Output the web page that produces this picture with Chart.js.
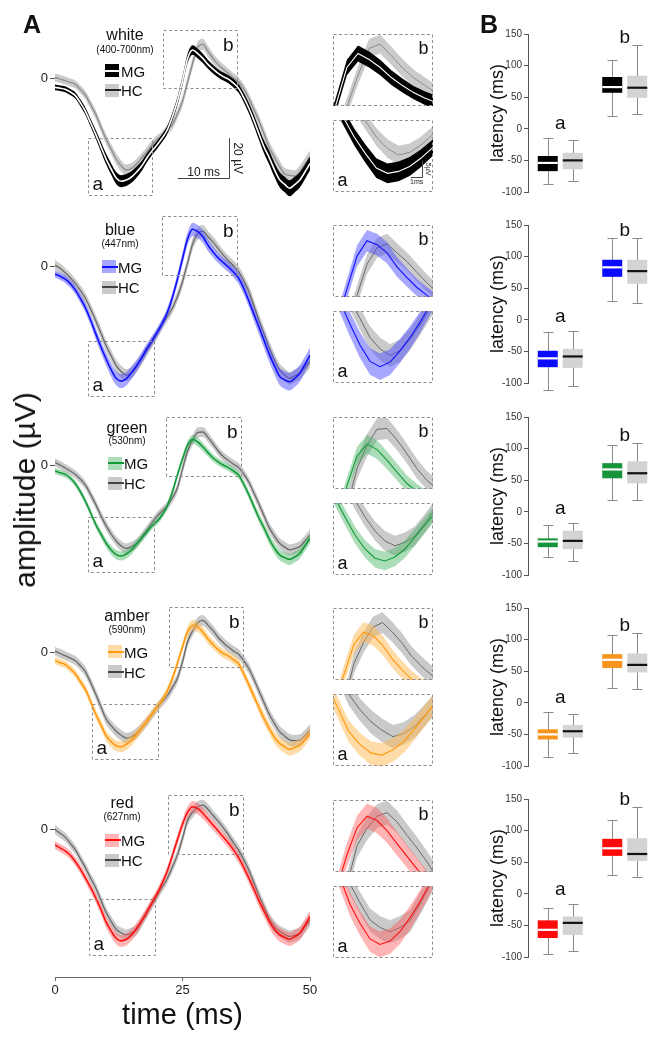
<!DOCTYPE html>
<html>
<head>
<meta charset="utf-8">
<script src="https://cdn.jsdelivr.net/npm/chart.js@4.4.1/dist/chart.umd.min.js"></script>
<style>
  body { margin: 0; width: 657px; height: 1040px; position: relative; background: #fff; overflow: hidden;
         font-family: "Liberation Sans", Arial, Helvetica, sans-serif; }
  canvas { position: absolute; }
  .txt { position: absolute; white-space: nowrap; color: #111; line-height: 1; }
  .sw { position: absolute; }
</style>
</head>
<body>
<script>
// time base of the averaged responses (ms)
const timeMs = [0,1,2,3,4,5,6,7,8,9,10,11,12,13,14,15,16,17,18,19,20,21,22,23,24,25,
  26,27,28,29,30,31,32,33,34,35,36,37,38,39,40,41,42,43,44,45,46,47,48,49,50];

// mean amplitude (uV), MG = patients, HC = controls
const whiteMG = [-4.7,-5.1,-5.6,-7,-8.8,-12.5,-16.8,-22.5,-28.2,-34.3,
  -40.4,-45.5,-50,-51.6,-51,-49.5,-47,-44,-40,-36.5,
  -33.5,-30,-26,-19.5,-11.6,-1.5,9.8,14,12.2,9.8,
  6.8,4.4,2.3,0.7,-0.6,-2.6,-5.2,-9.7,-15,-21.2,
  -28,-34.5,-39.8,-45.7,-50.7,-53.1,-55.1,-53.3,-51,-47,-42.7];
const whiteHC = [0.3,-0.5,-1.3,-2.2,-3.2,-5.8,-8.7,-13.4,-18.3,-24.5,
  -30.5,-35.5,-40.5,-44,-46,-45.2,-43,-40,-37,-33.5,
  -30.8,-28.9,-26,-23.3,-18,-11.5,-2,7.5,15.5,16.8,
  13.3,9.7,6.7,4.5,2.2,0,-2,-5.4,-10.1,-15.7,
  -21.5,-28,-34.7,-39.6,-44.1,-47.9,-48.7,-49.1,-46.8,-43,-39.3];
const blueMG = [-3.7,-4.8,-6.2,-8.5,-11.7,-16,-20.7,-26.8,-33.6,-40,
  -46,-51.5,-55.8,-57.2,-56,-53,-49.5,-45.5,-41,-37,
  -33,-28.5,-23,-15.5,-6.3,4,14,18.7,17.5,15,
  10.7,7.4,4.4,2,-0.2,-2.8,-5.8,-10.8,-17,-23.7,
  -30.3,-37,-43.7,-49.5,-54.7,-56.6,-57.5,-55.9,-53.3,-49,-44.2];
const blueHC = [0.8,-0.8,-3,-5.5,-8.5,-12,-16,-21.3,-27,-33.2,
  -39.4,-44.5,-49.5,-52.5,-54.2,-53,-50,-46.2,-42,-38,
  -33.5,-29,-25,-20.8,-15,-7.5,2,11.5,16.5,17.8,
  15,12.3,9,5.8,3,0.5,-2.5,-7,-12.3,-19.5,
  -26.8,-33.5,-40.3,-46.5,-51.5,-54,-55.8,-54.6,-53.3,-50.5,-47.5];
const greenMG = [-3,-3.9,-4.7,-6.5,-9.4,-13.5,-18.3,-24,-29.8,-34.5,
  -39,-42.5,-44.8,-45.5,-44.5,-42.5,-39.5,-36.5,-33.5,-30.5,
  -28.2,-25,-20.5,-13.5,-5,3,10,12.8,11.5,9,
  6.2,3.5,1.6,0,-1.3,-3,-5,-9.5,-14.8,-20.7,
  -26.5,-31.5,-37,-41.5,-44.8,-46.3,-47.2,-46,-44.2,-40.5,-36.7];
const greenHC = [1.2,0,-1.5,-3,-4.7,-7.2,-10.2,-14.8,-19.8,-25.3,
  -30.3,-34.5,-38,-40.5,-41.7,-40.8,-39.2,-36,-32.5,-29,
  -25.6,-23,-20.5,-16.5,-11.5,-2,7,12.5,16.3,16.5,
  13.8,10.5,7,4.2,2.3,0.4,-1.2,-4.5,-8.5,-14,
  -19.6,-25.5,-31.3,-35.5,-39,-41,-42.4,-41.8,-40.8,-38,-35];
const amberMG = [-4,-5,-5.9,-8,-10.6,-14.5,-18.6,-24.5,-30.8,-36,
  -41.5,-44.5,-46.5,-47,-45.8,-43.8,-40.8,-37.6,-34.3,-30.7,
  -27.3,-23.7,-19.2,-13,-5.3,3,10.5,13.7,12.8,10.3,
  6.8,4,1.5,-0.4,-1.6,-3.5,-5.5,-10.5,-16,-21.7,
  -27.5,-33,-37.8,-42.3,-45.2,-47,-48.3,-47.4,-46.2,-43.5,-40.3];
const amberHC = [0.8,-0.4,-1.5,-2.7,-4,-6.5,-9.7,-15,-20.8,-27,
  -33,-36.5,-39.3,-41.3,-42.8,-42,-40.3,-37.5,-34.5,-31,
  -27.5,-24.5,-21.6,-17.5,-12.8,-4.5,5.5,11,15,16.2,
  13.8,11,7.6,5,2.8,0.8,-0.8,-4,-7.9,-13.3,
  -19.2,-25,-30.8,-35.3,-39.3,-41.6,-43.6,-44,-43.7,-41.5,-38.7];
const redMG = [-7.8,-9.3,-10.8,-13,-16.2,-20,-24.5,-29.2,-34.3,-40,
  -46.3,-50.8,-54.5,-55.8,-55,-52.8,-49.5,-45.7,-41.3,-36.8,
  -32.3,-27,-21,-13.3,-5.2,2.5,8.6,11.3,10.3,8,
  5,2.1,-0.8,-3.8,-6.9,-10.3,-14.2,-19,-24.3,-30,
  -35.8,-41,-46,-50,-52.6,-54,-55,-53.7,-52,-48,-43.7];
const redHC = [0,-2,-3.9,-7,-10.3,-14.8,-19.4,-24.5,-29.3,-35.5,
  -41.5,-46,-50,-51.8,-52.8,-51.8,-50.3,-46.2,-42,-37.5,
  -33.3,-29,-24.7,-19,-12.8,-4.5,4.5,8.5,11.3,12.1,
  10,6.9,4,0.8,-2.8,-6.7,-10.4,-15.1,-20.3,-26.7,
  -33.1,-38.9,-44.7,-48.5,-51,-52.5,-53.6,-53,-52,-48.8,-45.3];

// SEM of each trace (uV)
const whiteMGSem = [1.4,1.4,1.5,1.5,1.6,1.7,1.8,2,2.2,2.4, 2.6,2.8,3,3,3,2.9,2.7,2.5,2.3,2.1,
  2,2,2,2,2.1,2.2,2.3,2.4,2.4,2.3, 2.2,2.1,2,2,2,2.1,2.2,2.4,2.6,2.8, 3,3.2,3.4,3.6,3.8,3.9,4,3.9,3.8,3.6, 3.4];
const whiteHCSem = [2,2,2,2,2,2,2.1,2.2,2.3,2.4, 2.5,2.6,2.7,2.8,2.8,2.7,2.6,2.5,2.4,2.3,
  2.2,2.2,2.2,2.3,2.4,2.5,2.6,2.7,2.8,2.8, 2.7,2.6,2.5,2.4,2.4,2.4,2.4,2.4,2.5,2.6, 2.7,2.8,2.9,3,3,3,3,3,3,3, 3];
const blueMGSem = [1.8,1.8,1.9,2,2.1,2.2,2.4,2.6,2.8,3, 3.2,3.4,3.5,3.5,3.4,3.2,3,2.8,2.6,2.4,
  2.3,2.3,2.4,2.6,2.8,3,3.2,3.3,3.3,3.2, 3,2.8,2.6,2.5,2.5,2.6,2.8,3,3.2,3.4, 3.6,3.8,4,4.2,4.3,4.4,4.4,4.3,4.2,4, 3.8];
const blueHCSem = [2.4,2.4,2.4,2.5,2.5,2.6,2.6,2.7,2.7,2.8, 2.8,2.9,3,3,3,2.9,2.8,2.7,2.6,2.5,
  2.5,2.5,2.5,2.6,2.7,2.8,2.9,3,3,3, 2.9,2.8,2.7,2.6,2.6,2.6,2.7,2.8,2.9,3, 3,3.1,3.1,3.2,3.2,3.2,3.2,3.2,3.2,3.2, 3.2];
const greenMGSem = [1.5,1.5,1.5,1.5,1.6,1.6,1.7,1.8,1.9,2, 2.1,2.2,2.3,2.3,2.3,2.2,2.1,2,1.9,1.8,
  1.7,1.7,1.7,1.8,1.9,2,2.1,2.2,2.2,2.1, 2,1.9,1.8,1.8,1.8,1.8,1.9,2,2.1,2.2, 2.3,2.4,2.5,2.6,2.7,2.8,2.8,2.8,2.7,2.6, 2.5];
const greenHCSem = [2,2,2,2,2,2.1,2.1,2.2,2.2,2.3, 2.3,2.4,2.4,2.5,2.5,2.4,2.4,2.3,2.2,2.2,
  2.1,2.1,2.1,2.2,2.3,2.4,2.5,2.6,2.6,2.5, 2.4,2.3,2.3,2.2,2.2,2.2,2.2,2.3,2.3,2.4, 2.4,2.5,2.5,2.6,2.6,2.7,2.7,2.7,2.7,2.7, 2.7];
const amberMGSem = [1.8,1.8,1.8,1.9,1.9,2,2.1,2.2,2.3,2.4, 2.5,2.6,2.7,2.7,2.7,2.6,2.5,2.4,2.3,2.2,
  2.1,2.1,2.1,2.2,2.3,2.4,2.5,2.6,2.6,2.5, 2.4,2.3,2.2,2.2,2.2,2.2,2.3,2.4,2.5,2.6, 2.7,2.8,2.9,3,3.1,3.2,3.2,3.2,3.1,3, 2.9];
const amberHCSem = [2.2,2.2,2.2,2.2,2.3,2.3,2.4,2.4,2.5,2.5, 2.6,2.6,2.7,2.7,2.7,2.6,2.6,2.5,2.5,2.4,
  2.4,2.4,2.4,2.5,2.5,2.6,2.6,2.7,2.7,2.7, 2.6,2.6,2.5,2.5,2.5,2.5,2.5,2.5,2.6,2.6, 2.7,2.7,2.8,2.8,2.9,2.9,2.9,2.9,2.9,2.9, 2.9];
const redMGSem = [2,2,2.1,2.1,2.2,2.3,2.4,2.5,2.6,2.7, 2.8,2.9,3,3,3,2.9,2.8,2.7,2.6,2.5,
  2.4,2.4,2.4,2.5,2.6,2.7,2.8,2.9,2.9,2.8, 2.7,2.6,2.5,2.5,2.5,2.5,2.6,2.7,2.8,2.9, 3,3.1,3.2,3.3,3.4,3.4,3.4,3.4,3.3,3.2, 3.1];
const redHCSem = [2.2,2.2,2.2,2.3,2.3,2.3,2.4,2.4,2.5,2.5, 2.6,2.6,2.7,2.7,2.7,2.7,2.6,2.6,2.5,2.5,
  2.4,2.4,2.4,2.5,2.5,2.6,2.6,2.7,2.7,2.7, 2.6,2.6,2.5,2.5,2.5,2.5,2.5,2.6,2.6,2.7, 2.7,2.8,2.8,2.9,2.9,3,3,3,3,3, 3];

// latency box stats per component [a, b]: [min, q1, median, q3, max] (ms)
const latWhiteMG = [[-88,-67,-54,-43,-14], [20,57,66,82,109]];
const latWhiteHC = [[-83,-64,-50,-38,-17], [23,49,65,84,132]];
const latBlueMG  = [[-111,-75,-61,-49,-19], [29,68,83,95,130]];
const latBlueHC  = [[-105,-76,-58,-46,-17], [27,57,77,95,130]];
const latGreenMG = [[-71,-56,-47,-42,-21], [19,53,67,77,105]];
const latGreenHC = [[-78,-59,-46,-30,-17], [18,45,61,80,109]];
const latAmberMG = [[-85,-58,-50,-42,-15], [23,55,68,77,107]];
const latAmberHC = [[-80,-55,-45,-35,-18], [22,48,60,78,110]];
const latRedMG   = [[-96,-70,-57,-42,-22], [29,60,72,87,117]];
const latRedHC   = [[-90,-65,-46,-36,-16], [26,52,63,88,138]];

const componentLabels = ['a', 'b'];

Chart.defaults.font.family = '"Liberation Sans", Arial, Helvetica, sans-serif';
Chart.defaults.color = '#222';
Chart.defaults.animation = false;
Chart.defaults.events = [];
Chart.defaults.plugins.legend.display = false;
Chart.defaults.plugins.tooltip.enabled = false;

// one entry per stimulus colour: data refs plus where things go on the page
const rows = [
  { name: 'white', nm: '(400-700nm)', mg: whiteMG, mgSem: whiteMGSem, hc: whiteHC, hcSem: whiteHCSem,
    latMG: latWhiteMG, latHC: latWhiteHC,
    mgLine: '#ffffff', mgBand: '#000000', hcLine: '#8c8c8c', hcBand: '#cbcbcb', boxColor: '#000000',
    zeroY: 78, boxA: [6.5, 19, -58.5, -30], boxB: [21.2, 35.7, -5, 24],
    insetA: [8.1, 17.1, -57.3, -35.3], insetB: [24.75, 33.75, -1.7, 19.8], inTop: [34, 120], latTop: 34,
    leg: { cx: 125, nameY: 35, subY: 50, swX: 105, mgY: 70.5, hcY: 90 } },
  { name: 'blue', nm: '(447nm)', mg: blueMG, mgSem: blueMGSem, hc: blueHC, hcSem: blueHCSem,
    latMG: latBlueMG, latHC: latBlueHC,
    mgLine: '#1010ff', mgBand: 'rgba(80,80,255,0.5)', hcLine: '#6a6a6a', hcBand: 'rgba(150,150,150,0.5)', boxColor: '#0a0aff',
    zeroY: 266.7, boxA: [6.5, 19.4, -64.7, -37], boxB: [21, 35.6, -4.2, 25.5],
    insetA: [8.3, 18.3, -61.5, -42.5], insetB: [23.6, 33.6, 1.5, 23.5], inTop: [225, 311], latTop: 225,
    leg: { cx: 120, nameY: 230, subY: 244, swX: 102, mgY: 266.7, hcY: 287.3 } },
  { name: 'green', nm: '(530nm)', mg: greenMG, mgSem: greenMGSem, hc: greenHC, hcSem: greenHCSem,
    latMG: latGreenMG, latHC: latGreenHC,
    mgLine: '#139a3a', mgBand: 'rgba(70,180,100,0.45)', hcLine: '#6a6a6a', hcBand: 'rgba(150,150,150,0.5)', boxColor: '#17933a',
    zeroY: 465, boxA: [6.5, 19.4, -53.7, -25.9], boxB: [21.7, 36.4, -5.5, 24.2],
    insetA: [7.8, 17.8, -49, -31], insetB: [23.6, 33.6, 2.2, 19.2], inTop: [417, 503], latTop: 417,
    leg: { cx: 127, nameY: 428, subY: 441, swX: 108, mgY: 463.3, hcY: 483.3 } },
  { name: 'amber', nm: '(590nm)', mg: amberMG, mgSem: amberMGSem, hc: amberHC, hcSem: amberHCSem,
    latMG: latAmberMG, latHC: latAmberHC,
    mgLine: '#ff9a10', mgBand: 'rgba(255,185,80,0.5)', hcLine: '#6a6a6a', hcBand: 'rgba(150,150,150,0.5)', boxColor: '#f7941d',
    zeroY: 652.7, boxA: [7.2, 20.1, -53.3, -25.7], boxB: [22.4, 36.9, -7, 22.7],
    insetA: [8.6, 17.6, -49.5, -33], insetB: [23.8, 34.3, 1.2, 20], inTop: [608, 694], latTop: 608,
    leg: { cx: 127, nameY: 616, subY: 630, swX: 108, mgY: 651.7, hcY: 671.7 } },
  { name: 'red', nm: '(627nm)', mg: redMG, mgSem: redMGSem, hc: redHC, hcSem: redHCSem,
    latMG: latRedMG, latHC: latRedHC,
    mgLine: '#ff1010', mgBand: 'rgba(255,90,90,0.45)', hcLine: '#6a6a6a', hcBand: 'rgba(150,150,150,0.5)', boxColor: '#ff0a0a',
    zeroY: 829.3, boxA: [6.7, 19.6, -62.9, -35], boxB: [22.2, 36.9, -12.3, 17.2],
    insetA: [8.3, 18.3, -59, -42], insetB: [23.6, 33.6, -1.5, 15], inTop: [800, 886], latTop: 799,
    leg: { cx: 122, nameY: 803, subY: 817, swX: 105, mgY: 840, hcY: 860 } }
];

function addCanvas(left, top, w, h) {
  const c = document.createElement('canvas');
  c.width = w; c.height = h;
  c.style.left = left + 'px'; c.style.top = top + 'px';
  c.style.width = w + 'px'; c.style.height = h + 'px';
  document.body.appendChild(c);
  return c;
}

function addText(str, x, y, size, opts = {}) {
  const d = document.createElement('div');
  d.className = 'txt';
  d.textContent = str;
  d.style.left = x + 'px';
  d.style.top = y + 'px';
  d.style.fontSize = size + 'px';
  if (opts.bold) d.style.fontWeight = 'bold';
  const tx = opts.left ? '0' : '-50%';
  d.style.transform = `translate(${tx}, -50%)` + (opts.rotate ? ` rotate(${opts.rotate}deg)` : '');
  document.body.appendChild(d);
}

function addSwatch(x, y, band, line) {
  const s = document.createElement('div');
  s.className = 'sw';
  s.style.cssText += `left:${x}px;top:${y - 6.5}px;width:14px;height:13px;background:${band}`;
  document.body.appendChild(s);
  const l = document.createElement('div');
  l.className = 'sw';
  l.style.cssText += `left:${x}px;top:${y - 1}px;width:16px;height:2px;background:${line}`;
  document.body.appendChild(l);
}

// mean line + SEM band as three datasets (line, upper edge filled to lower edge)
function bandSets(mean, sem, lineColor, bandColor, lineWidth, order, smooth, clip) {
  const pts = arr => timeMs.map((t, k) => ({ x: t, y: arr[k] }));
  const up = mean.map((v, k) => v + sem[k]);
  const lo = mean.map((v, k) => v - sem[k]);
  const base = { pointRadius: 0, cubicInterpolationMode: smooth ? 'monotone' : 'default', tension: 0 };
  if (clip !== undefined) base.clip = clip;
  return [
    { ...base, data: pts(mean), borderColor: lineColor, borderWidth: lineWidth, fill: false, order: order },
    { ...base, data: pts(up), borderWidth: 0, borderColor: 'rgba(0,0,0,0)', backgroundColor: bandColor, fill: '+1', order: order + 1 },
    { ...base, data: pts(lo), borderWidth: 0, borderColor: 'rgba(0,0,0,0)', fill: false, order: order + 1 }
  ];
}

// keep the chart area exactly where the axis box puts it (no label overhang padding)
function noOverhang(s) {
  s.paddingTop = 0; s.paddingBottom = 0; s.paddingLeft = 0; s.paddingRight = 0;
}

// dashed boxes, a/b letters and scale bars
const decorPlugin = {
  id: 'decor',
  afterDraw(chart, args, opts) {
    const ctx = chart.ctx, xs = chart.scales.x, ys = chart.scales.y, area = chart.chartArea;
    const fam = Chart.defaults.font.family;
    ctx.save();
    ctx.strokeStyle = '#8f8f8f';
    ctx.lineWidth = 1;
    const rects = [];
    (opts.boxes || []).forEach(b => {
      rects.push({ lab: b.lab, x1: xs.getPixelForValue(b.r[0]), x2: xs.getPixelForValue(b.r[1]),
        y1: ys.getPixelForValue(b.r[3]), y2: ys.getPixelForValue(b.r[2]) });
    });
    if (opts.frame) rects.push({ lab: opts.frame, x1: area.left, x2: area.right - 1, y1: area.top, y2: area.bottom - 1 });
    rects.forEach(r => {
      const x1 = Math.round(r.x1) + 0.5, x2 = Math.round(r.x2) + 0.5;
      const y1 = Math.round(r.y1) + 0.5, y2 = Math.round(r.y2) + 0.5;
      ctx.setLineDash([3, 2.5]);
      ctx.strokeRect(x1, y1, x2 - x1, y2 - y1);
      ctx.setLineDash([]);
      ctx.fillStyle = '#111';
      ctx.font = `${opts.letterSize || 19}px ${fam}`;
      if (r.lab === 'a') {
        ctx.textAlign = 'left'; ctx.textBaseline = 'alphabetic';
        ctx.fillText('a', x1 + 4, y2 - 6);
      } else {
        ctx.textAlign = 'right'; ctx.textBaseline = 'top';
        ctx.fillText('b', x2 - 4, y1 + 6);
      }
    });
    const bar = opts.bar;
    if (bar) {
      const x = Math.round(xs.getPixelForValue(bar.t)) + 0.5;
      const y = Math.round(ys.getPixelForValue(bar.v)) + 0.5;
      const xl = xs.getPixelForValue(bar.t - bar.dt);
      const yt = ys.getPixelForValue(bar.v + bar.dv);
      ctx.strokeStyle = '#444';
      ctx.beginPath();
      ctx.moveTo(xl, y); ctx.lineTo(x, y); ctx.lineTo(x, yt);
      ctx.stroke();
      ctx.fillStyle = '#222';
      ctx.font = `${bar.size}px ${fam}`;
      ctx.textAlign = 'center';
      if (bar.below) { ctx.textBaseline = 'top'; ctx.fillText(bar.tLabel, (xl + x) / 2, y + 1); }
      else { ctx.textBaseline = 'alphabetic'; ctx.fillText(bar.tLabel, (xl + x) / 2, y - 3); }
      ctx.translate(x + 2, (y + yt) / 2);
      ctx.rotate(Math.PI / 2);
      ctx.textBaseline = 'bottom';
      ctx.fillText(bar.vLabel, 0, 0);
    }
    ctx.restore();
  }
};

// whiskers behind the boxes, medians and a/b letters on top
const whiskerPlugin = {
  id: 'whiskers',
  beforeDatasetsDraw(chart) {
    const ctx = chart.ctx, ys = chart.scales.y;
    ctx.save();
    ctx.strokeStyle = '#8a8a8a';
    ctx.lineWidth = 1;
    chart.data.datasets.forEach((ds, i) => {
      chart.getDatasetMeta(i).data.forEach((bar, j) => {
        const s = ds.stats[j];
        const x = Math.round(bar.x) + 0.5;
        const lo = Math.round(ys.getPixelForValue(s[0])) + 0.5;
        const hi = Math.round(ys.getPixelForValue(s[4])) + 0.5;
        ctx.beginPath();
        ctx.moveTo(x, lo); ctx.lineTo(x, hi);
        ctx.moveTo(x - 5, lo); ctx.lineTo(x + 5, lo);
        ctx.moveTo(x - 5, hi); ctx.lineTo(x + 5, hi);
        ctx.stroke();
      });
    });
    ctx.restore();
  },
  afterDatasetsDraw(chart) {
    const ctx = chart.ctx, ys = chart.scales.y;
    ctx.save();
    chart.data.datasets.forEach((ds, i) => {
      chart.getDatasetMeta(i).data.forEach((bar, j) => {
        const y = ys.getPixelForValue(ds.stats[j][2]);
        ctx.strokeStyle = ds.medianColor;
        ctx.lineWidth = 2.2;
        ctx.beginPath();
        ctx.moveTo(bar.x - bar.width / 2, y);
        ctx.lineTo(bar.x + bar.width / 2, y);
        ctx.stroke();
      });
    });
    ctx.fillStyle = '#111';
    ctx.font = `19px ${Chart.defaults.font.family}`;
    ctx.textAlign = 'center';
    ctx.textBaseline = 'alphabetic';
    chart.data.labels.forEach((lab, j) => {
      const bars = chart.data.datasets.map((ds, i) => chart.getDatasetMeta(i).data[j]);
      const cx = bars.reduce((a, b) => a + b.x, 0) / bars.length;
      const topPx = Math.min(...chart.data.datasets.map(ds => ys.getPixelForValue(ds.stats[j][4])));
      ctx.fillText(lab, cx, topPx - (lab === 'a' ? 9 : 2));
    });
    ctx.restore();
  }
};

function drawMain(r, i) {
  const last = i === rows.length - 1;
  const top = Math.round(r.zeroY - 70);
  const areaBottom = last ? 977 : Math.round(r.zeroY + 130);
  const height = (last ? 1040 : areaBottom) - top;
  const cv = addCanvas(35, top, 287, height);
  const decor = { boxes: [{ lab: 'a', r: r.boxA }, { lab: 'b', r: r.boxB }] };
  if (i === 0) decor.bar = { t: 34.1, v: -50, dt: 10, dv: 20, tLabel: '10 ms', vLabel: '20 µV', size: 12 };
  const xAxis = { type: 'linear', min: 0, max: 50, display: last };
  if (last) {
    Object.assign(xAxis, {
      afterFit: s => { s.height = 1040 - 977; noOverhang(s); },
      border: { display: true, color: '#666', width: 1 },
      grid: { drawOnChartArea: false, drawTicks: true, tickLength: 4, color: '#666' },
      ticks: { stepSize: 25, padding: 2, font: { size: 13 }, color: '#222', maxRotation: 0 },
      title: { display: true, text: 'time (ms)', font: { size: 29 }, color: '#111', padding: { top: 0, bottom: 7 } }
    });
  }
  new Chart(cv, {
    type: 'line',
    data: { datasets: [
      ...bandSets(r.mg, r.mgSem, r.mgLine, r.mgBand, 1.6, 0, true),
      ...bandSets(r.hc, r.hcSem, r.hcLine, r.hcBand, 1.3, 2, true)
    ] },
    options: {
      responsive: false, devicePixelRatio: 1,
      layout: { padding: { left: 0, right: 12, top: 0, bottom: 0 } },
      scales: {
        x: xAxis,
        y: {
          type: 'linear',
          min: -(areaBottom - r.zeroY) / 2, max: (r.zeroY - top) / 2,
          afterFit: s => { s.width = 20; noOverhang(s); },
          afterBuildTicks: s => { s.ticks = [{ value: 0 }]; },
          border: { display: false },
          grid: { drawOnChartArea: false, drawTicks: true, tickLength: 5, color: '#555' },
          ticks: { padding: 2, font: { size: 13 }, color: '#222' }
        }
      },
      plugins: { decor: decor }
    },
    plugins: [decorPlugin]
  });
}

function drawInset(r, which, top, i) {
  const rng = which === 'a' ? r.insetA : r.insetB;
  const cv = addCanvas(333, top, 100, 72);
  const decor = { frame: which, letterSize: 18 };
  if (i === 0 && which === 'a') decor.bar = { t: 16.1, v: -52.7, dt: 1, dv: 5, tLabel: '1ms', vLabel: '5µV', size: 7, below: true };
  new Chart(cv, {
    type: 'line',
    data: { datasets: [
      ...bandSets(r.mg, r.mgSem, r.mgLine, r.mgBand, 1.1, 0, false, 0),
      ...bandSets(r.hc, r.hcSem, r.hcLine, r.hcBand, 1, 2, false, 0)
    ] },
    options: {
      responsive: false, devicePixelRatio: 1,
      layout: { padding: 0 },
      scales: {
        x: { type: 'linear', display: false, min: rng[0], max: rng[1] },
        y: { type: 'linear', display: false, min: rng[2], max: rng[3] }
      },
      plugins: { decor: decor }
    },
    plugins: [decorPlugin]
  });
}

function drawBox(r) {
  const cv = addCanvas(470, r.latTop - 20, 187, 198);
  new Chart(cv, {
    type: 'bar',
    data: {
      labels: componentLabels,
      datasets: [
        { label: 'MG', data: r.latMG.map(s => [s[1], s[3]]), stats: r.latMG, backgroundColor: r.boxColor, medianColor: '#ffffff' },
        { label: 'HC', data: r.latHC.map(s => [s[1], s[3]]), stats: r.latHC, backgroundColor: '#d3d3d3', medianColor: '#111111' }
      ]
    },
    options: {
      responsive: false, devicePixelRatio: 1,
      layout: { padding: { top: 20, bottom: 20, left: 0, right: 0 } },
      datasets: { bar: { categoryPercentage: 0.775, barPercentage: 0.8, borderWidth: 0, borderSkipped: false } },
      scales: {
        x: { display: false },
        y: {
          min: -100, max: 150,
          afterFit: s => { s.width = 58; noOverhang(s); },
          ticks: { stepSize: 50, padding: 2, font: { size: 10 }, color: '#333' },
          grid: { drawOnChartArea: false, drawTicks: true, tickLength: 4, color: '#555' },
          border: { display: true, color: '#555', width: 1 },
          title: { display: true, text: 'latency (ms)', font: { size: 18 }, color: '#111', padding: { top: 17, bottom: 0 } }
        }
      }
    },
    plugins: [whiskerPlugin]
  });
}

rows.forEach((r, i) => {
  drawMain(r, i);
  drawInset(r, 'b', r.inTop[0], i);
  drawInset(r, 'a', r.inTop[1], i);
  drawBox(r);
  const g = r.leg;
  addText(r.name, g.cx, g.nameY, 16);
  addText(r.nm, g.cx, g.subY, 10);
  addSwatch(g.swX, g.mgY, r.mgBand, r.mgLine);
  addText('MG', g.swX + 16, g.mgY, 15, { left: true });
  addSwatch(g.swX, g.hcY, r.hcBand, r.name === 'white' ? '#222' : '#444');
  addText('HC', g.swX + 16, g.hcY, 15, { left: true });
});

addText('A', 32, 24, 25, { bold: true });
addText('B', 489, 24, 25, { bold: true });
addText('amplitude (µV)', 25, 490, 30, { rotate: -90 });
</script>
</body>
</html>
